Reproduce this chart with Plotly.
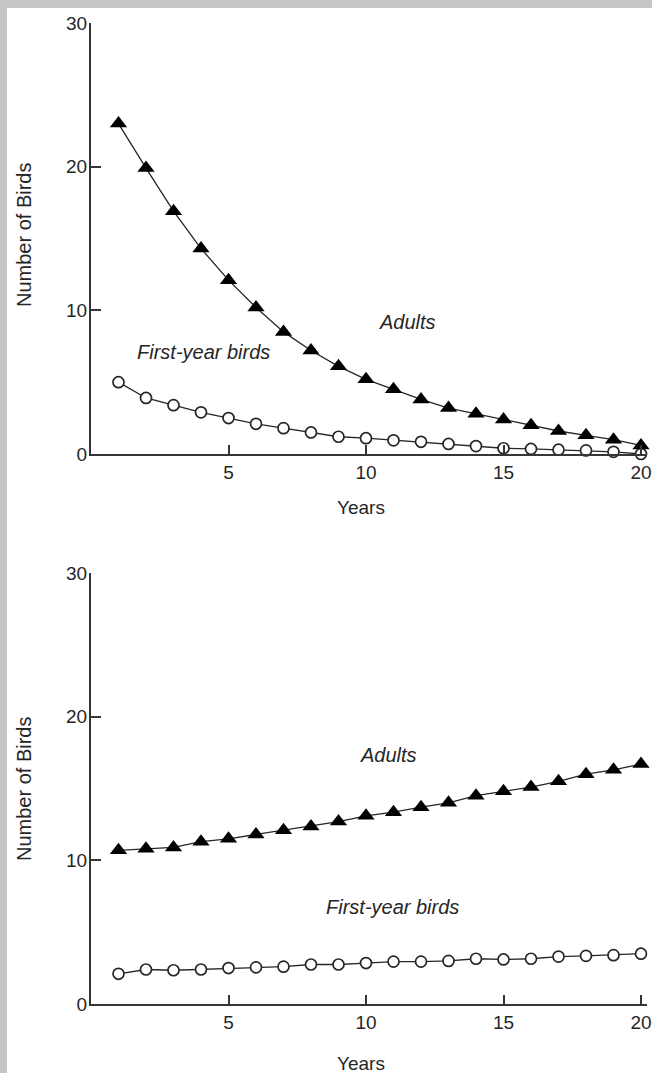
import plotly.graph_objects as go

# ---------------- data ----------------
years = list(range(1, 21))
adults_decline = [23.0, 19.9, 16.9, 14.3, 12.1, 10.2, 8.5, 7.2, 6.1, 5.2,
                  4.5, 3.8, 3.2, 2.8, 2.4, 2.0, 1.6, 1.3, 1.0, 0.6]
first_decline = [5.0, 3.9, 3.4, 2.9, 2.5, 2.1, 1.8, 1.5, 1.2, 1.1,
                 0.95, 0.85, 0.7, 0.55, 0.4, 0.35, 0.3, 0.25, 0.15, 0.0]
adults_growth = [10.7, 10.8, 10.9, 11.3, 11.5, 11.8, 12.1, 12.35, 12.7, 13.1,
                 13.35, 13.7, 14.0, 14.5, 14.8, 15.1, 15.5, 16.0, 16.3, 16.7]
first_growth = [2.1, 2.4, 2.35, 2.4, 2.5, 2.55, 2.6, 2.75, 2.75, 2.85,
                2.95, 2.95, 3.0, 3.15, 3.1, 3.15, 3.3, 3.35, 3.4, 3.5]
x_ticks = [5, 10, 15, 20]
y_ticks = [0, 10, 20, 30]
x_title = "Years"
y_title = "Number of Birds"
label_adults = "Adults"
label_first = "First-year birds"

# ---------------- style ----------------
W, H = 652, 1073
INK = "#262626"
AXIS = "#363636"
FONT = "Liberation Sans, Arial, sans-serif"


def px_x(p):
    return p / W


def px_y(p):
    return 1 - p / H


fig = go.Figure()


def add_series(xa, ya, adults, first):
    fig.add_trace(go.Scatter(
        x=years, y=first, mode="lines+markers", xaxis=xa, yaxis=ya,
        line=dict(color=INK, width=1.3),
        marker=dict(symbol="circle", size=11, color="white",
                    line=dict(color=INK, width=1.7)),
        cliponaxis=False, showlegend=False))
    fig.add_trace(go.Scatter(
        x=years, y=adults, mode="lines+markers", xaxis=xa, yaxis=ya,
        line=dict(color=INK, width=1.3),
        marker=dict(symbol="triangle-up", size=15, color="black",
                    line=dict(color="black", width=0)),
        cliponaxis=False, showlegend=False))


add_series("x", "y", adults_decline, first_decline)
add_series("x2", "y2", adults_growth, first_growth)

x_dom = [px_x(91), px_x(646.5)]
xcommon = dict(range=[0, 20.2], tickvals=x_ticks, ticks="inside", ticklen=9,
               tickwidth=1.5, tickcolor=AXIS, showline=True, linecolor=AXIS,
               linewidth=2, showgrid=False, zeroline=False, automargin=False,
               tickfont=dict(family=FONT, size=19, color=INK),
               ticklabelstandoff=0)
ycommon = dict(range=[0, 30], tickvals=y_ticks, ticks="inside", ticklen=10,
               tickwidth=1.5, tickcolor=AXIS, showline=True, linecolor=AXIS,
               linewidth=2, showgrid=False, zeroline=False, automargin=False,
               tickfont=dict(family=FONT, size=19, color=INK),
               ticklabelstandoff=-2)

fig.update_layout(
    width=W, height=H,
    margin=dict(l=0, r=0, t=0, b=0, pad=0),
    paper_bgcolor="#c6c6c6",
    plot_bgcolor="white",
    xaxis=dict(domain=x_dom, anchor="y", **xcommon),
    yaxis=dict(domain=[px_y(454), px_y(23)], anchor="x", **ycommon),
    xaxis2=dict(domain=x_dom, anchor="y2", **xcommon),
    yaxis2=dict(domain=[px_y(1004), px_y(573)], anchor="x2", **ycommon),
    shapes=[dict(type="rect", xref="paper", yref="paper",
                 x0=px_x(7), x1=1.0, y0=0, y1=px_y(8),
                 fillcolor="white", line=dict(width=0), layer="below")],
)

ann = []
# axis titles
for cy, xy in [(235, 507), (789, 1063)]:
    ann.append(dict(text=y_title, xref="paper", yref="paper",
                    x=px_x(24), y=px_y(cy), textangle=-90, showarrow=False,
                    xanchor="center", yanchor="middle",
                    font=dict(family=FONT, size=20, color=INK)))
    ann.append(dict(text=x_title, xref="paper", yref="paper",
                    x=px_x(361), y=px_y(xy), showarrow=False,
                    xanchor="center", yanchor="middle",
                    font=dict(family=FONT, size=19, color=INK)))
# series labels
ital = dict(family=FONT, size=20, color=INK)
ann.append(dict(text="<i>%s</i>" % label_adults, xref="x", yref="y",
                x=11.5, y=9.2, showarrow=False, font=ital))
ann.append(dict(text="<i>%s</i>" % label_first, xref="x", yref="y",
                x=4.1, y=7.1, showarrow=False, font=ital))
ann.append(dict(text="<i>%s</i>" % label_adults, xref="x2", yref="y2",
                x=10.8, y=17.3, showarrow=False, font=ital))
ann.append(dict(text="<i>%s</i>" % label_first, xref="x2", yref="y2",
                x=10.95, y=6.75, showarrow=False, font=ital))
fig.update_layout(annotations=ann)

fig.write_html("out.html")
